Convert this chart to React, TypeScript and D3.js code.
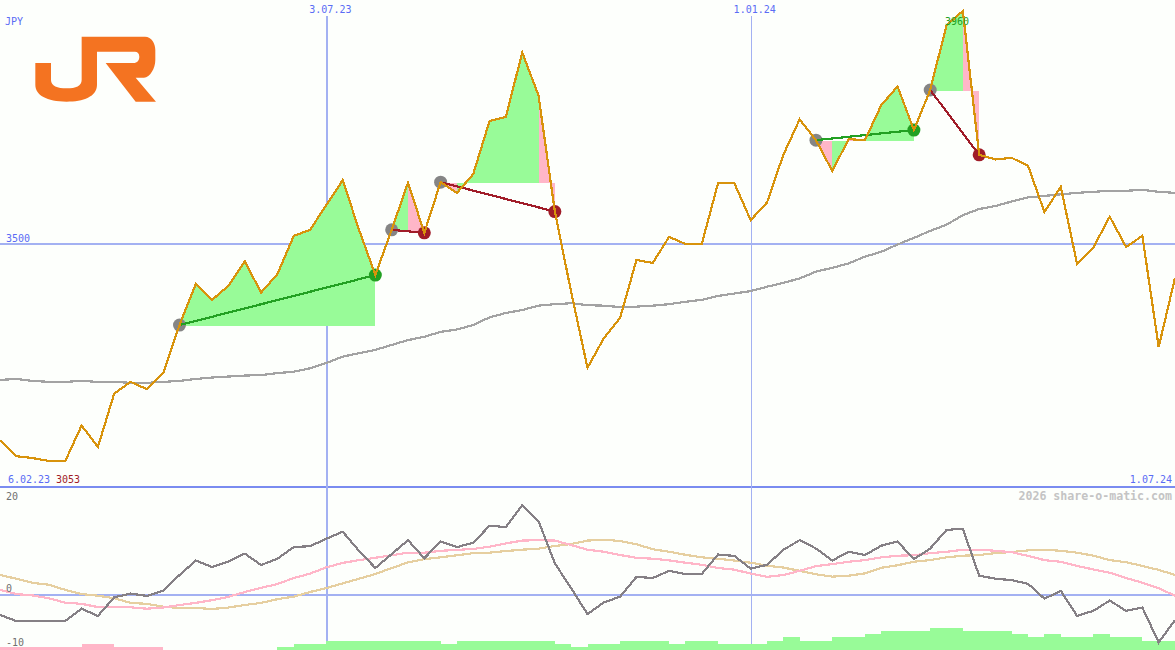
import React, { useEffect, useRef } from "react";
import * as d3 from "d3";

const width = 1175;
const height = 650;

// weekly close
const prices = [
  3096, 3063, 3059, 3053, 3053, 3126, 3082, 3192, 3216, 3201, 3234, 3333, 3418, 3385, 3414, 3464,
  3400, 3438, 3516, 3528, 3577, 3626, 3528, 3436, 3528, 3621, 3522, 3622, 3601, 3638, 3743, 3751,
  3878, 3793, 3564, 3401, 3245, 3306, 3348, 3467, 3461, 3514, 3500, 3500, 3620, 3620, 3547, 3582,
  3676, 3746, 3705, 3644, 3707, 3705, 3774, 3811, 3725, 3804, 3932, 3960, 3676, 3667, 3670, 3654,
  3563, 3613, 3459, 3493, 3554, 3494, 3516, 3288, 3430,
];

const average = [
  3220, 3222, 3218, 3216, 3216, 3218, 3216, 3216, 3214, 3214, 3216, 3218, 3222, 3225, 3227, 3229,
  3230, 3234, 3237, 3244, 3255, 3268, 3275, 3282, 3292, 3302, 3309, 3319, 3324, 3333, 3349, 3358,
  3364, 3373, 3376, 3378, 3374, 3373, 3370, 3371, 3373, 3376, 3381, 3385, 3393, 3398, 3403, 3412,
  3420, 3429, 3443, 3451, 3460, 3474, 3484, 3499, 3512, 3526, 3538, 3557, 3569, 3575, 3584, 3592,
  3595, 3598, 3601, 3603, 3605, 3605, 3607, 3603, 3601,
];

const momentum = [
  -4.3, -5.6, -5.6, -5.6, -5.6, -2.95, -4.5, -0.5, 0.3, -0.2, 0.9, 4.3, 7.4, 6.0, 7.2, 8.9,
  6.45, 7.8, 10.3, 10.5, 12.1, 13.6, 9.5, 5.8, 8.8, 11.8, 7.9, 11.5, 10.3, 11.25, 14.9, 14.6,
  19.3, 15.9, 6.8, 1.45, -4.1, -1.6, -0.35, 3.9, 3.65, 5.2, 4.5, 4.5, 8.7, 8.4, 5.65, 6.5,
  9.7, 11.8, 10.0, 7.4, 9.3, 8.6, 10.6, 11.5, 7.7, 10.0, 14.0, 14.25, 4.15, 3.5, 3.2, 2.4,
  -0.8, 0.9, -4.5, -3.4, -1.2, -3.4, -2.7, -10.2, -5.4,
];

const momentumPink = [
  1.1, 0.2, -0.1, -0.7, -1.65, -1.9, -2.6, -2.65, -2.65, -2.95, -2.7, -2.15, -1.7, -1.1, -0.4, 0.65,
  1.55, 2.35, 3.65, 4.6, 5.95, 6.9, 7.5, 8.0, 8.55, 9.1, 9.1, 9.5, 9.7, 9.9, 10.4, 11.1,
  11.7, 11.8, 11.7, 10.75, 9.75, 9.3, 8.6, 8.0, 7.8, 7.45, 6.95, 6.5, 5.8, 5.45, 4.6, 3.9,
  4.3, 5.2, 6.2, 6.65, 7.15, 7.5, 8.1, 8.45, 8.55, 9.0, 9.3, 9.7, 9.75, 9.5, 9.2, 8.4,
  7.5, 7.15, 6.25, 5.5, 4.8, 3.65, 2.65, 1.45, -0.15,
];

const momentumTan = [
  4.3, 3.5, 2.6, 2.2, 1.1, 0.2, -0.15, -0.7, -1.7, -1.9, -2.5, -2.8, -2.8, -3.0, -2.7, -2.15,
  -1.7, -0.9, -0.35, 0.65, 1.5, 2.5, 3.5, 4.5, 5.8, 7.0, 7.7, 8.1, 8.55, 9.0, 9.1, 9.45,
  9.75, 9.95, 10.55, 10.95, 11.7, 11.9, 11.6, 10.9, 9.85, 9.3, 8.65, 8.1, 7.8, 7.4, 6.95, 6.3,
  5.9, 5.2, 4.45, 3.95, 4.15, 4.65, 5.85, 6.4, 7.15, 7.5, 8.1, 8.45, 8.6, 9.0, 9.25, 9.6,
  9.75, 9.5, 9.1, 8.45, 7.5, 7.05, 6.25, 5.4, 4.3,
];

// bottom strip, negative = pink
const strength = [
  -1, -1, -1, -1, -1, -2, -2, -1, -1, -1, 0, 0, 0, 0, 0, 0,
  0, 1, 2, 2, 3, 3, 3, 3, 3, 3, 3, 2, 3, 3, 3, 3,
  3, 3, 2, 1, 2, 2, 3, 3, 3, 2, 3, 3, 2, 2, 2, 3,
  4, 3, 3, 4, 4, 5, 6, 6, 6, 7, 7, 6, 6, 6, 5, 4,
  5, 4, 4, 5, 4, 4, 3, 3, 3,
];

const tradeEntries = [11, 24, 27, 50, 57];
const tradeExits = [23, 26, 34, 56, 60];
const pinkSegments = [25, 27, 33, 50, 52, 59];

const dateTicks = [20, 46];
const dateLabels = ["3.07.23", "1.01.24"];

const BG = "#fdfffc";
const BLUE = "#5a6cf5";
const GRID = "#a3b1f2";
const AXIS = "#7a8cf0";
const GREEN = "#22a022";
const RED = "#a01c28";
const FILL_GREEN = "#98fb98";
const FILL_PINK = "#ffb6c8";
const FONT = "'DejaVu Sans Mono', monospace";

const logoPath =
  "M106 189 L153 189 L153 240 C153 258 172 265 200 265 C228 265 245 258 245 240 L245 110 L435 110 " +
  "C455 110 466 130 466 150 L466 180 C466 205 450 232 432 233 L407 233 L468 305 L407 305 L317 189 " +
  "L400 189 C412 189 418 180 418 170 C418 160 412 155 405 155 L291 155 L291 255 " +
  "C291 290 250 305 200 305 C140 305 106 285 106 255 Z";

export default function App() {
  const svgRef = useRef<SVGSVGElement | null>(null);

  useEffect(() => {
    if (!svgRef.current) return;
    const svg = d3.select(svgRef.current);
    svg.selectAll("*").remove();

    const x = d3.scaleLinear().domain([0, 72]).range([0, width]);
    const y = d3.scaleLinear().domain([3053, 3500, 3960]).range([461, 244, 11]);
    const yLow = d3.scaleLinear().domain([-10, 20]).range([641.5, 502]);
    const yBar = d3.scaleLinear().domain([0, 7]).range([650, 628]);

    const hLine = (yPos: number, color: string) =>
      svg
        .append("line")
        .attr("x1", 0)
        .attr("x2", width)
        .attr("y1", yPos)
        .attr("y2", yPos)
        .attr("stroke", color)
        .attr("stroke-width", 2)
        .attr("shape-rendering", "crispEdges");

    const label = (
      px: number,
      py: number,
      text: string,
      color: string,
      anchor = "start"
    ) =>
      svg
        .append("text")
        .attr("x", px)
        .attr("y", py)
        .attr("fill", color)
        .attr("font-family", FONT)
        .attr("font-size", 10)
        .attr("text-anchor", anchor)
        .text(text);

    // grid
    hLine(y(3500), GRID);
    hLine(487, AXIS);
    hLine(yLow(0), GRID);
    dateTicks.forEach((t, i) => {
      const px = i === 0 ? Math.round(x(t)) + 1 : Math.round(x(t)) + 0.5;
      svg
        .append("line")
        .attr("x1", px)
        .attr("x2", px)
        .attr("y1", 16)
        .attr("y2", height)
        .attr("stroke", GRID)
        .attr("stroke-width", i === 0 ? 2 : 1)
        .attr("shape-rendering", "crispEdges");
    });

    // logo
    svg
      .append("path")
      .attr("d", logoPath)
      .attr("transform", "scale(0.3333)")
      .attr("fill", "#f47321");

    // trade fills
    const segArea = d3
      .area<number>()
      .x((i) => x(i))
      .y1((i) => y(prices[i]));

    tradeEntries.forEach((entry, t) => {
      const base = y(prices[entry]);
      d3.range(entry, tradeExits[t]).forEach((i) => {
        svg
          .append("path")
          .attr("d", segArea.y0(base + 1)([i, i + 1]))
          .attr("fill", pinkSegments.includes(i) ? FILL_PINK : FILL_GREEN)
          .attr("shape-rendering", "crispEdges");
      });
    });

    // bottom strip
    svg
      .append("g")
      .attr("shape-rendering", "crispEdges")
      .selectAll("rect")
      .data(strength)
      .join("rect")
      .attr("x", (_, i) => x(i))
      .attr("width", (_, i) => x(i + 1) - x(i))
      .attr("y", (d) => yBar(Math.abs(d)))
      .attr("height", (d) => height - yBar(Math.abs(d)))
      .attr("fill", (d) => (d < 0 ? FILL_PINK : FILL_GREEN));

    const priceLine = d3
      .line<number>()
      .x((_, i) => x(i))
      .y((d) => y(d));
    const lowLine = d3
      .line<number>()
      .x((_, i) => x(i))
      .y((d) => yLow(d));

    const drawLine = (d: string | null, color: string, w = 2.2) =>
      svg
        .append("path")
        .attr("d", d)
        .attr("fill", "none")
        .attr("stroke", color)
        .attr("stroke-width", w)
        .attr("shape-rendering", "crispEdges");

    drawLine(priceLine(average), "#a3a3a3");

    // trades
    tradeEntries.forEach((entry, t) => {
      const exit = tradeExits[t];
      const won = prices[exit] > prices[entry];
      const color = won ? GREEN : RED;
      svg
        .append("circle")
        .attr("cx", x(entry))
        .attr("cy", y(prices[entry]))
        .attr("r", 6.5)
        .attr("fill", "#858585");
      svg
        .append("circle")
        .attr("cx", x(exit))
        .attr("cy", y(prices[exit]))
        .attr("r", 6.5)
        .attr("fill", color);
      svg
        .append("line")
        .attr("x1", x(entry))
        .attr("y1", y(prices[entry]))
        .attr("x2", x(exit))
        .attr("y2", y(prices[exit]))
        .attr("stroke", color)
        .attr("stroke-width", 2.2)
        .attr("shape-rendering", "crispEdges");
    });

    drawLine(priceLine(prices), "#d8930c");

    drawLine(lowLine(momentumTan), "#e6cfa0");
    drawLine(lowLine(momentumPink), "#ffb6c8");
    drawLine(lowLine(momentum), "#858085");

    // texts
    label(5, 25, "JPY", BLUE);
    label(6, 242, "3500", BLUE);
    dateTicks.forEach((t, i) => label(x(t) + 4, 13, dateLabels[i], BLUE, "middle"));
    label(945, 25, "3960", GREEN);
    label(8, 483, "6.02.23", BLUE);
    label(56, 483, "3053", RED);
    label(1172, 483, "1.07.24", BLUE, "end");
    label(6, 500, "20", "#707070");
    label(6, 592, "0", "#707070");
    label(6, 646, "-10", "#707070");
    label(1172, 500, "2026 share-o-matic.com", "#c4c4c4", "end")
      .attr("font-size", 11.6)
      .attr("font-weight", "bold");
  }, []);

  return (
    <svg
      ref={svgRef}
      width={width}
      height={height}
      style={{ position: "fixed", left: 0, top: 0, background: BG }}
    />
  );
}
